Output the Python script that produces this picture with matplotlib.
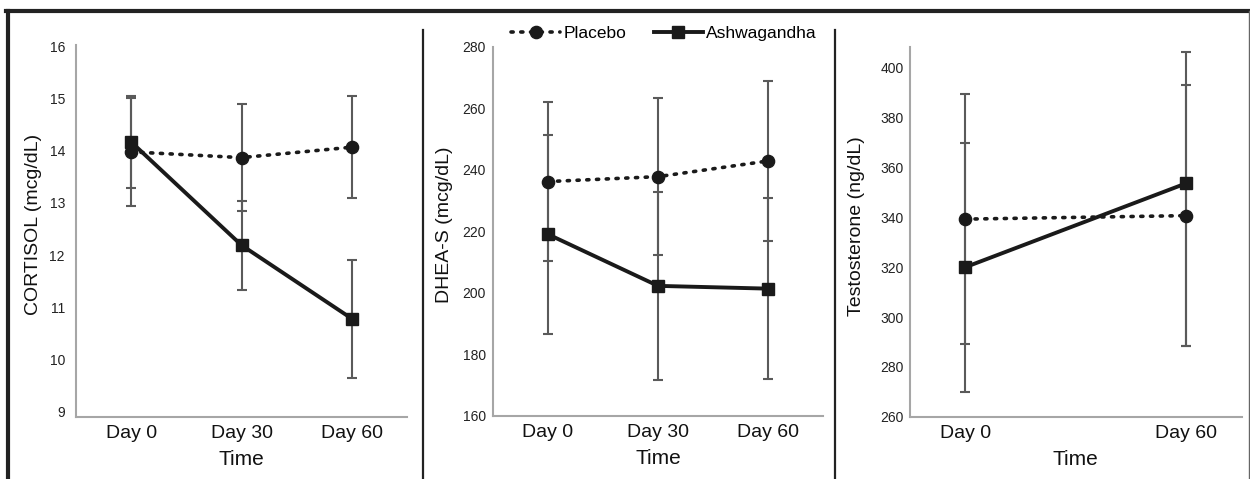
import numpy as np
import matplotlib.pyplot as plt
from matplotlib.lines import Line2D

plt.rcParams['font.family'] = ['Liberation Sans', 'DejaVu Sans']

# Data
days3 = [0, 30, 60]
days2 = [0, 60]
day_labels3 = ['Day 0', 'Day 30', 'Day 60']
day_labels2 = ['Day 0', 'Day 60']

cort_placebo = [13.98, 13.87, 14.07]
cort_placebo_sd = [1.03, 1.03, 0.975]
cort_ashwa = [14.17, 12.19, 10.78]
cort_ashwa_sd = [0.89, 0.855, 1.13]

dhea_placebo = [236.1, 237.7, 242.8]
dhea_placebo_sd = [25.8, 25.6, 26.0]
dhea_ashwa = [219.0, 202.2, 201.3]
dhea_ashwa_sd = [32.3, 30.6, 29.4]

testo_placebo = [339.3, 340.7]
testo_placebo_sd = [50.3, 52.5]
testo_ashwa = [320.0, 353.7]
testo_ashwa_lo = [49.9, 65.3]
testo_ashwa_hi = [49.9, 52.8]

W, H = 1250, 479
fig = plt.figure(figsize=(12.5, 4.79), dpi=100)


def box(x0, x1, ytop, ybot):
    return [x0 / W, 1 - ybot / H, (x1 - x0) / W, (ybot - ytop) / H]


ax1 = fig.add_axes(box(76, 407, 45, 416.7))
ax2 = fig.add_axes(box(492.7, 823.3, 46.5, 415.7))
ax3 = fig.add_axes(box(910, 1241.7, 46.7, 416.7))

line_col = '#1a1a1a'
err_col = '#5a5a5a'


def draw(ax, x, pl, pl_err, aw, aw_err):
    ax.errorbar(x, pl, yerr=pl_err, fmt='none', ecolor=err_col, elinewidth=1.5,
                capsize=3.3, capthick=1.5, zorder=2)
    ax.errorbar(x, aw, yerr=aw_err, fmt='none', ecolor=err_col, elinewidth=1.5,
                capsize=3.3, capthick=1.5, zorder=2)
    ax.plot(x, pl, color=line_col, linestyle=(0, (0.6, 2.1)), linewidth=2.6,
            dash_capstyle='round', marker='o', markersize=8.8, zorder=3)
    ax.plot(x, aw, color=line_col, linestyle='-', linewidth=2.8,
            marker='s', markersize=8, zorder=4)


draw(ax1, days3, cort_placebo, cort_placebo_sd, cort_ashwa, cort_ashwa_sd)
draw(ax2, days3, dhea_placebo, dhea_placebo_sd, dhea_ashwa, dhea_ashwa_sd)
draw(ax3, days2, testo_placebo, testo_placebo_sd, testo_ashwa,
     [testo_ashwa_lo, testo_ashwa_hi])

ax1.set_ylim(8.9, 16.03)
ax1.set_yticks(range(9, 17))
ax2.set_ylim(160, 280)
ax2.set_yticks(range(160, 281, 20))
ax3.set_ylim(260, 408.5)
ax3.set_yticks(range(260, 401, 20))

ax1.set_xticks(days3, day_labels3)
ax2.set_xticks(days3, day_labels3)
ax3.set_xticks(days2, day_labels2)

ylabels = ['CORTISOL (mcg/dL)', 'DHEA-S (mcg/dL)', 'Testosterone (ng/dL)']
label_x = [-0.104, -0.119, -0.136]
label_y = [0.518, 0.5165, 0.514]
ypads = [8, 5, 4.5]

for ax, lab, lx, ly, pad in zip([ax1, ax2, ax3], ylabels, label_x, label_y, ypads):
    ax.set_xlim(-15, 75)
    for s in ['top', 'right']:
        ax.spines[s].set_visible(False)
    for s in ['left', 'bottom']:
        ax.spines[s].set_color('#a6a6a6')
        ax.spines[s].set_linewidth(1.5)
    ax.tick_params(axis='y', length=0, pad=pad, labelsize=10, labelcolor='#222222')
    ax.tick_params(axis='x', length=0, pad=6, labelsize=14, labelcolor='#111111')
    ax.set_xlabel('Time', fontsize=15, labelpad=6, color='#111111')
    ax.set_ylabel(lab, fontsize=14, color='#111111')
    ax.yaxis.set_label_coords(lx, ly)
    ax.patch.set_alpha(0)

# Legend above the middle panel
handles = [
    Line2D([], [], color=line_col, linestyle=(0, (0.6, 2.1)), linewidth=2.6,
           dash_capstyle='round', marker='o', markersize=8.8),
    Line2D([], [], color=line_col, linestyle='-', linewidth=2.8,
           marker='s', markersize=8),
]
fig.legend(handles, ['Placebo', 'Ashwagandha'], loc='center',
           bbox_to_anchor=(664 / W, 1 - 33.3 / H), ncol=2, frameon=False,
           fontsize=12.5, handlelength=2.8, handletextpad=0.2,
           columnspacing=1.6, borderpad=0)

# Outer frame and panel dividers
frame_col = '#222222'
fig.add_artist(Line2D([6 / W, 1], [1 - 11 / H, 1 - 11 / H], color=frame_col, linewidth=3))
fig.add_artist(Line2D([8 / W, 8 / W], [0, 1 - 11 / H], color=frame_col, linewidth=3))
fig.add_artist(Line2D([1249 / W, 1249 / W], [0, 1 - 11 / H], color='#666666', linewidth=1))
for xd in [423, 835]:
    fig.add_artist(Line2D([xd / W, xd / W], [0, 1 - 29.5 / H], color=frame_col, linewidth=1.6))

fig.savefig('out.png', dpi=100)
